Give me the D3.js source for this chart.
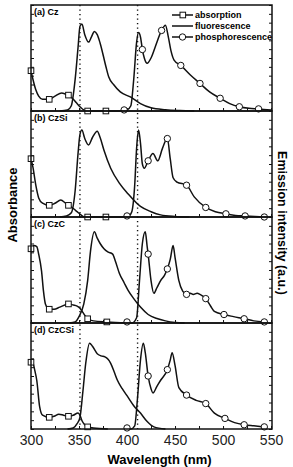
<!DOCTYPE html>
<html lang="en">
<head>
<style>
  body { margin: 0; background: #fff; }
  svg { font-family: "Liberation Sans", Arial, sans-serif; }
  .frame { fill: none; stroke: #111; stroke-width: 1.5; }
  .tick line { stroke: #111; stroke-width: 1; }
  .curve { fill: none; stroke: #111; stroke-width: 1.5; }
  .mark { fill: #fff; stroke: #111; stroke-width: 1; }
</style>
<script src="https://d3js.org/d3.v7.min.js" charset="utf-8"></script>
</head>
<body>
<script>
  // panel names
  let panelLabels = ["(a) Cz", "(b) CzSi", "(c) CzC", "(d) CzCSi"];

  // absorption curves [nm, normalised value]
  let absA = [[300,0.38],[302,0.30],[305,0.2],[308,0.14],[312,0.11],[319,0.11],[325,0.14],[332,0.17],[338,0.15],[343,0.12],[347,0.08],[351,0.04],[355,0.01],[360,0],[400,0]];
  let absB = [[300,0.55],[302,0.47],[305,0.3],[308,0.18],[312,0.13],[319,0.11],[325,0.13],[331,0.16],[336,0.13],[339,0.11],[344,0.08],[348,0.05],[352,0.02],[356,0],[400,0]];
  let absC = [[300,0.70],[303,0.73],[306,0.72],[308,0.65],[311,0.49],[313,0.3],[315,0.18],[319,0.13],[324,0.13],[330,0.15],[339,0.18],[344,0.17],[348,0.16],[351,0.14],[354,0.1],[359,0.04],[365,0.02],[379,0.01],[400,0]];
  let absD = [[300,0.63],[302,0.62],[304,0.55],[306,0.46],[309,0.21],[312,0.13],[319,0.11],[324,0.12],[329,0.14],[334,0.13],[339,0.12],[344,0.13],[349,0.15],[351,0.13],[353,0.08],[356,0.04],[359,0.02],[365,0.01],[380,0]];

  // square markers on absorption
  let absMarkA = [[300,0.38],[319,0.11],[339,0.15],[359,0],[378,0]];
  let absMarkB = [[300,0.55],[319,0.11],[339,0.11],[359,0],[378,0]];
  let absMarkC = [[300,0.70],[319,0.13],[339,0.18],[359,0.04],[379,0.01]];
  let absMarkD = [[300,0.63],[319,0.11],[339,0.12],[359,0.02]];

  // fluorescence curves
  let fluA = [[330,0],[338,0.01],[342,0.05],[346,0.3],[349,0.6],[351,0.8],[353,0.82],[356,0.72],[360,0.65],[363,0.7],[366,0.75],[369,0.72],[372,0.64],[378,0.42],[381,0.32],[386,0.25],[393,0.18],[404,0.13],[414,0.07],[425,0.03],[440,0.012],[455,0.004],[470,0]];
  let fluB = [[330,0],[337,0.01],[342,0.04],[346,0.25],[349,0.6],[351,0.78],[353,0.82],[356,0.74],[360,0.68],[364,0.75],[369,0.81],[372,0.75],[376,0.63],[383,0.46],[392,0.32],[401,0.22],[414,0.1],[425,0.05],[435,0.02],[450,0.005],[465,0]];
  let fluC = [[340,0],[346,0.01],[350,0.06],[355,0.18],[359,0.4],[362,0.68],[366,0.86],[369,0.8],[372,0.75],[376,0.7],[380,0.67],[385,0.65],[388,0.58],[392,0.47],[397,0.38],[401,0.31],[407,0.23],[414,0.15],[422,0.08],[432,0.04],[440,0.02],[450,0.005],[460,0]];
  let fluD = [[338,0],[344,0.01],[348,0.05],[351,0.11],[354,0.35],[357,0.62],[361,0.81],[364,0.78],[369,0.71],[373,0.69],[377,0.68],[380,0.66],[383,0.62],[387,0.53],[390,0.46],[395,0.38],[401,0.3],[407,0.22],[414,0.15],[421,0.07],[428,0.02],[440,0]];

  // phosphorescence curves
  let phoA = [[395,0],[400,0.01],[404,0.05],[407,0.3],[410,0.65],[412,0.74],[414,0.7],[416,0.58],[418,0.5],[421,0.45],[425,0.5],[430,0.62],[436,0.76],[440,0.81],[443,0.7],[446,0.56],[449,0.48],[456,0.43],[466,0.34],[476,0.26],[486,0.18],[497,0.12],[507,0.07],[517,0.04],[527,0.025],[537,0.02],[550,0.01]];
  let phoB = [[398,0],[402,0.01],[405,0.05],[408,0.3],[410,0.65],[412,0.82],[414,0.7],[416,0.5],[418,0.46],[422,0.53],[427,0.6],[432,0.53],[437,0.65],[442,0.74],[445,0.55],[448,0.37],[452,0.33],[462,0.3],[470,0.19],[482,0.09],[492,0.05],[503,0.03],[513,0.015],[523,0.01],[543,0]];
  let phoC = [[400,0],[405,0],[410,0.05],[413,0.4],[416,0.75],[419,0.86],[421,0.72],[422,0.65],[425,0.4],[428,0.28],[431,0.33],[435,0.4],[439,0.45],[442,0.51],[445,0.6],[448,0.73],[450,0.62],[454,0.4],[458,0.3],[462,0.27],[466,0.28],[469,0.27],[473,0.28],[476,0.27],[482,0.23],[487,0.16],[491,0.11],[501,0.08],[511,0.06],[522,0.04],[532,0.02],[543,0.01]];
  let phoD = [[400,0],[404,0],[408,0.03],[411,0.3],[414,0.65],[417,0.81],[419,0.72],[422,0.5],[425,0.38],[427,0.34],[431,0.4],[435,0.46],[442,0.56],[445,0.65],[447,0.72],[450,0.6],[454,0.39],[462,0.32],[472,0.27],[482,0.24],[491,0.15],[502,0.1],[512,0.06],[522,0.04],[532,0.03],[543,0.02]];

  // circle markers on phosphorescence
  let phoMarkA = [[397,0.01],[416,0.58],[436,0.76],[456,0.43],[476,0.26],[497,0.12],[517,0.04],[537,0.02]];
  let phoMarkB = [[400,0.01],[422,0.53],[442,0.74],[462,0.3],[482,0.09],[503,0.03],[523,0.01],[543,0]];
  let phoMarkC = [[400,0.01],[422,0.65],[442,0.51],[462,0.27],[482,0.23],[501,0.08],[522,0.04],[543,0.01]];
  let phoMarkD = [[400,0.01],[422,0.5],[442,0.56],[462,0.32],[482,0.24],[502,0.1],[522,0.04],[543,0.02]];

  let xTicks = [300, 350, 400, 450, 500, 550];
  let guideLines = [351, 411];
  let legendItems = ["absorption", "fluorescence", "phosphorescence"];

  let panels = [
    { abs: absA, absMark: absMarkA, flu: fluA, pho: phoA, phoMark: phoMarkA },
    { abs: absB, absMark: absMarkB, flu: fluB, pho: phoB, phoMark: phoMarkB },
    { abs: absC, absMark: absMarkC, flu: fluC, pho: phoC, phoMark: phoMarkC },
    { abs: absD, absMark: absMarkD, flu: fluD, pho: phoD, phoMark: phoMarkD }
  ];

  let plotLeft = 31, plotRight = 272, plotTop = 5, panelHeight = 106;
  let plotBottom = plotTop + panelHeight * panels.length;

  let svg = d3.select("body")
    .append("svg")
    .attr("width", 293)
    .attr("height", 467);

  let x = d3.scaleLinear()
    .domain([300, 551])
    .range([plotLeft, plotRight]);

  let line = d3.line()
    .x(function(d) { return x(d[0]); })
    .curve(d3.curveMonotoneX);

  let yTickVals = d3.range(0, 13).map(function(i) { return i / 12; });

  panels.forEach(function(p, i) {
    let y0 = plotTop + i * panelHeight;
    let y = d3.scaleLinear().domain([0, 1]).range([y0 + panelHeight, y0]);
    let g = svg.append("g");

    line.y(function(d) { return y(d[1]); });

    // inward ticks
    g.append("g")
      .attr("transform", "translate(" + plotLeft + ",0)")
      .call(d3.axisRight(y).tickValues(yTickVals).tickSize(3).tickFormat(""))
      .call(function(a) { a.select(".domain").remove(); });
    g.append("g")
      .attr("transform", "translate(" + plotRight + ",0)")
      .call(d3.axisLeft(y).tickValues(yTickVals).tickSize(3).tickFormat(""))
      .call(function(a) { a.select(".domain").remove(); });
    g.append("g")
      .attr("transform", "translate(0," + (y0 + panelHeight) + ")")
      .call(d3.axisTop(x).tickValues(d3.range(300, 551, 25)).tickSize(3).tickFormat(""))
      .call(function(a) { a.select(".domain").remove(); });

    g.append("path").attr("class", "curve").attr("d", line(p.abs));
    g.append("path").attr("class", "curve").attr("d", line(p.flu));
    g.append("path").attr("class", "curve").attr("d", line(p.pho));

    g.selectAll(".sq").data(p.absMark).join("rect")
      .attr("class", "mark")
      .attr("x", function(d) { return x(d[0]) - 2.8; })
      .attr("y", function(d) { return y(d[1]) - 2.8; })
      .attr("width", 5.6)
      .attr("height", 5.6);

    g.selectAll(".ci").data(p.phoMark).join("circle")
      .attr("class", "mark")
      .attr("cx", function(d) { return x(d[0]); })
      .attr("cy", function(d) { return y(d[1]); })
      .attr("r", 3.2);

    g.append("rect")
      .attr("class", "frame")
      .attr("x", plotLeft)
      .attr("y", y0)
      .attr("width", plotRight - plotLeft)
      .attr("height", panelHeight);

    g.append("text")
      .attr("x", plotLeft + 3)
      .attr("y", y0 + 10)
      .style("font-size", "9px")
      .style("font-weight", "bold")
      .text(panelLabels[i]);
  });

  // dotted guide lines
  svg.selectAll(".guide").data(guideLines).join("line")
    .attr("x1", function(d) { return x(d); })
    .attr("x2", function(d) { return x(d); })
    .attr("y1", plotTop)
    .attr("y2", plotBottom)
    .style("stroke", "#111")
    .style("stroke-width", 1.4)
    .style("stroke-dasharray", "1.3,3.2");

  // bottom tick labels
  svg.append("g")
    .attr("transform", "translate(0," + plotBottom + ")")
    .call(d3.axisBottom(x).tickValues(xTicks).tickSize(0).tickPadding(6))
    .call(function(a) {
      a.select(".domain").remove();
      a.selectAll("text").style("font-size", "14px").style("fill", "#222")
        .style("font-family", "'Liberation Sans', Arial, sans-serif");
    });

  svg.append("text")
    .attr("x", (plotLeft + plotRight) / 2 + 8)
    .attr("y", 464)
    .attr("text-anchor", "middle")
    .style("font-size", "13px")
    .style("font-weight", "bold")
    .text("Wavelength (nm)");

  svg.append("text")
    .attr("transform", "translate(17,205) rotate(-90)")
    .attr("text-anchor", "middle")
    .style("font-size", "13px")
    .style("font-weight", "bold")
    .text("Absorbance");

  svg.append("text")
    .attr("transform", "translate(278,223) rotate(90)")
    .attr("text-anchor", "middle")
    .style("font-size", "12.5px")
    .style("font-weight", "bold")
    .text("Emission intensity (a.u.)");

  // legend
  let legend = svg.append("g").attr("transform", "translate(172,15)");
  legendItems.forEach(function(name, i) {
    let ly = i * 11;
    legend.append("line")
      .attr("x1", 0).attr("x2", 21).attr("y1", ly).attr("y2", ly)
      .style("stroke", "#111").style("stroke-width", 1.5);
    if (i === 0) {
      legend.append("rect").attr("class", "mark")
        .attr("x", 8).attr("y", ly - 2.8).attr("width", 5.6).attr("height", 5.6);
    }
    if (i === 2) {
      legend.append("circle").attr("class", "mark")
        .attr("cx", 10.5).attr("cy", ly).attr("r", 3.2);
    }
    legend.append("text")
      .attr("x", 23)
      .attr("y", ly + 3)
      .style("font-size", "9px")
      .style("font-weight", "bold")
      .text(name);
  });
</script>
</body>
</html>
